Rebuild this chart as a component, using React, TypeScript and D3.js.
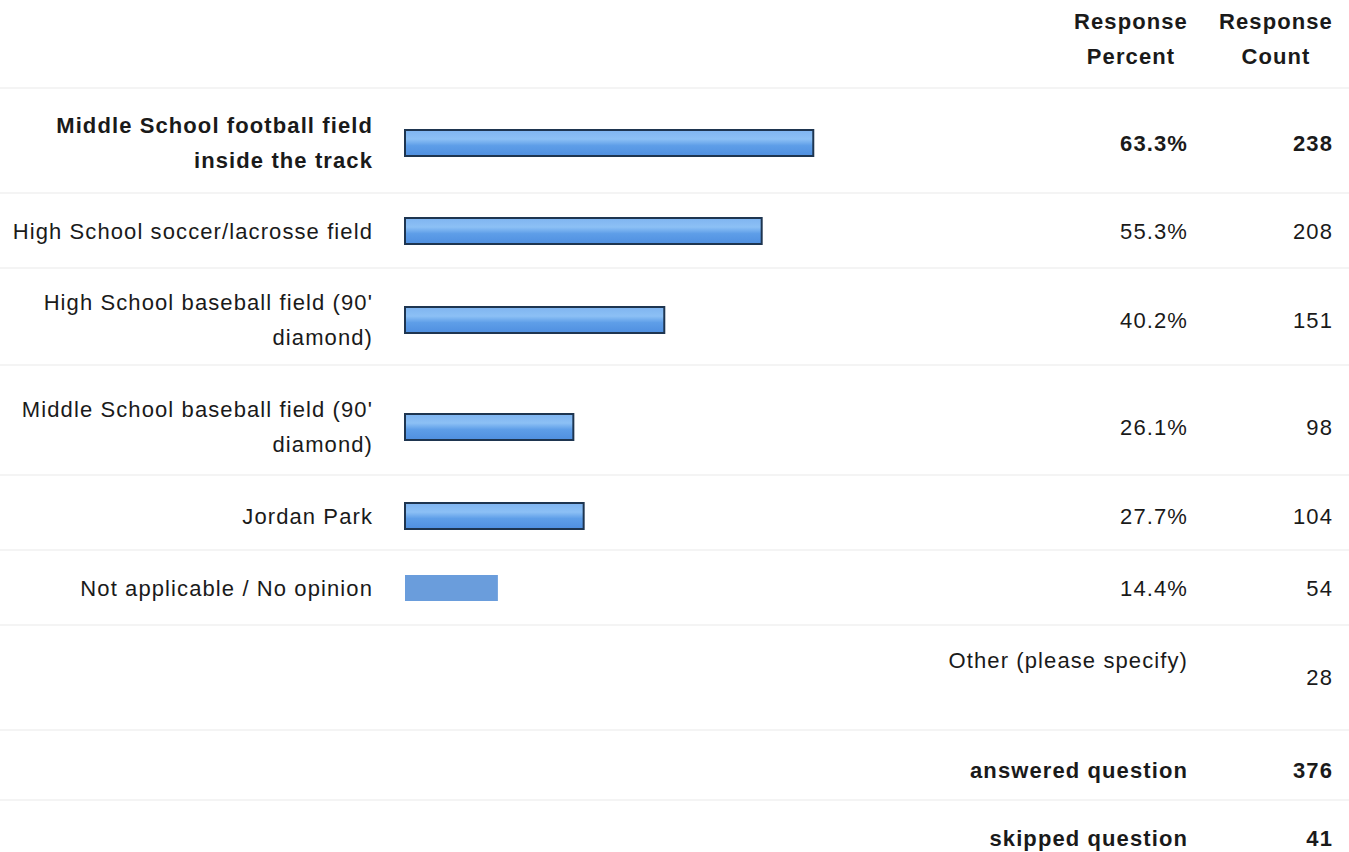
import React from "react";
import * as d3 from "d3";

const categories = [
  ["Middle School football field", "inside the track"],
  ["High School soccer/lacrosse field"],
  ["High School baseball field (90'", "diamond)"],
  ["Middle School baseball field (90'", "diamond)"],
  ["Jordan Park"],
  ["Not applicable / No opinion"],
];
const percents = [63.3, 55.3, 40.2, 26.1, 27.7, 14.4];
const counts = [238, 208, 151, 98, 104, 54];
const boldRow = [true, false, false, false, false, false];
const rowCenters = [143, 231, 320, 427, 516, 588];
const footerLabels = ["Other (please specify)", "answered question", "skipped question"];
const footerCounts = [28, 376, 41];
const separators = [88, 193, 268, 365, 475, 550, 625, 730, 800];

export default function App() {
  const W = 1349, H = 852;
  const x = d3.scaleLinear().domain([0, 100]).range([405, 405 + 645]);
  const font = "Liberation Sans, Arial, Helvetica, sans-serif";
  const fs = 22;
  const ls = 1.1;
  const textColor = "#1a1a1a";
  const barH = 26;
  const lineGap = 35;
  return (
    <svg width={W} height={H} style={{ position: "absolute", left: 0, top: 0, background: "#fff" }}
      fontFamily={font} letterSpacing={ls}>
      <defs>
        <linearGradient id="barGrad" x1="0" y1="0" x2="0" y2="1">
          <stop offset="0" stopColor="#7fb4f0" />
          <stop offset="0.35" stopColor="#8cc0f5" />
          <stop offset="0.6" stopColor="#5e9ee8" />
          <stop offset="1" stopColor="#4f8fe0" />
        </linearGradient>
      </defs>
      {separators.map((y, i) => (
        <line key={i} x1={0} x2={W} y1={y} y2={y} stroke="#f4f4f4" strokeWidth={2} />
      ))}
      <g fontWeight="bold" fontSize={fs} fill={textColor} textAnchor="middle">
        <text x={1131} y={21} dominantBaseline="central">Response</text>
        <text x={1131} y={56} dominantBaseline="central">Percent</text>
        <text x={1276} y={21} dominantBaseline="central">Response</text>
        <text x={1276} y={56} dominantBaseline="central">Count</text>
      </g>
      {categories.map((lines, i) => {
        const cy = rowCenters[i];
        const bold = boldRow[i];
        const n = lines.length;
        const last = i === categories.length - 1;
        return (
          <g key={i}>
            {lines.map((ln, j) => (
              <text
                key={j}
                x={373}
                y={cy + (j - (n - 1) / 2) * lineGap}
                textAnchor="end"
                dominantBaseline="central"
                fontSize={fs}
                fontWeight={bold ? "bold" : "normal"}
                fill={textColor}
              >
                {ln}
              </text>
            ))}
            <rect
              x={x(0)}
              y={cy - barH / 2}
              width={x(percents[i]) - x(0)}
              height={barH}
              fill={last ? "#6a9ddc" : "url(#barGrad)"}
              stroke={last ? "none" : "#1e3550"}
              strokeWidth={last ? 0 : 2}
            />
            <text x={1188} y={cy} textAnchor="end" dominantBaseline="central" fontSize={fs}
              fontWeight={bold ? "bold" : "normal"} fill={textColor}>
              {percents[i].toFixed(1)}%
            </text>
            <text x={1333} y={cy} textAnchor="end" dominantBaseline="central" fontSize={fs}
              fontWeight={bold ? "bold" : "normal"} fill={textColor}>
              {counts[i]}
            </text>
          </g>
        );
      })}
      <text x={1188} y={660} textAnchor="end" dominantBaseline="central" fontSize={fs} fill={textColor}>
        {footerLabels[0]}
      </text>
      <text x={1333} y={677} textAnchor="end" dominantBaseline="central" fontSize={fs} fill={textColor}>
        {footerCounts[0]}
      </text>
      {[1, 2].map((k) => (
        <g key={k} fontWeight="bold" fontSize={fs} fill={textColor}>
          <text x={1188} y={k === 1 ? 770 : 838} textAnchor="end" dominantBaseline="central">
            {footerLabels[k]}
          </text>
          <text x={1333} y={k === 1 ? 770 : 838} textAnchor="end" dominantBaseline="central">
            {footerCounts[k]}
          </text>
        </g>
      ))}
    </svg>
  );
}
